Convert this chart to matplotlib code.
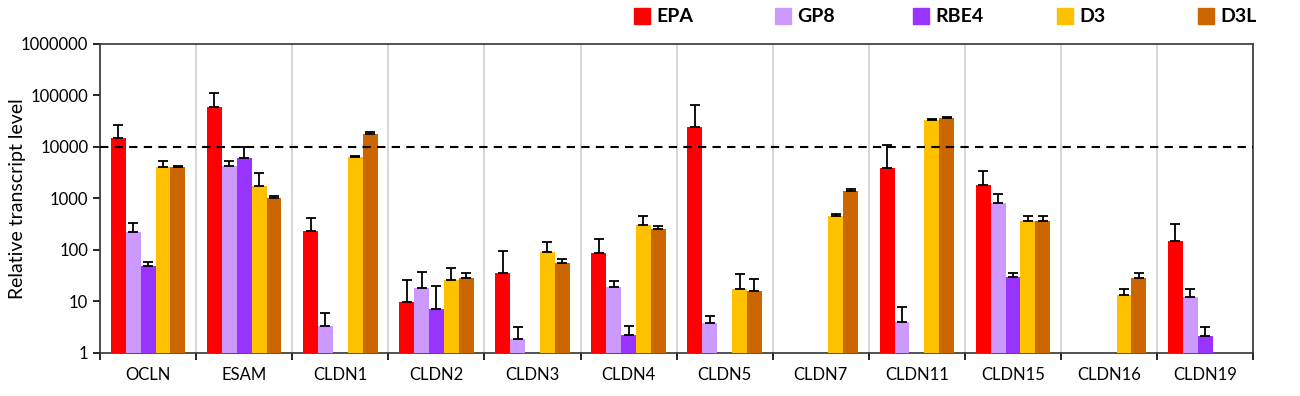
import numpy as np
import matplotlib
matplotlib.use('Agg')
import matplotlib.pyplot as plt
from matplotlib.patches import Rectangle

plt.rcParams['font.family'] = ['Lato', 'DejaVu Sans']

genes = ['OCLN', 'ESAM', 'CLDN1', 'CLDN2', 'CLDN3', 'CLDN4', 'CLDN5',
         'CLDN7', 'CLDN11', 'CLDN15', 'CLDN16', 'CLDN19']
series = ['EPA', 'GP8', 'RBE4', 'D3', 'D3L']
colors = ['#ff0000', '#cc99ff', '#9933ff', '#ffc000', '#cc6600']

nan = np.nan
# mean values (nan = not detected)
epa  = [15000, 60000, 235, 9.8, 36, 88, 24500, nan, 3900, 1820, nan, 150]
gp8  = [220, 4300, 3.3, 18, 1.87, 19, 3.8, nan, 4.0, 820, nan, 12]
rbe4 = [49, 6100, nan, 7.1, nan, 2.2, nan, nan, nan, 30, nan, 2.15]
d3   = [4100, 1750, 6500, 26, 92, 310, 17.5, 460, 33500, 370, 13.4, nan]
d3l  = [4000, 1030, 18000, 29, 56, 255, 16, 1400, 36000, 370, 29, nan]

# upper error bar (SD)
epa_sd  = [12000, 52000, 185, 16, 60, 75, 41500, nan, 7100, 1580, nan, 170]
gp8_sd  = [110, 1000, 2.7, 19, 1.33, 6, 1.4, nan, 3.8, 410, nan, 5]
rbe4_sd = [9, 3900, nan, 12.9, nan, 1.1, nan, nan, nan, 5, nan, 1.05]
d3_sd   = [1200, 1350, 200, 19, 48, 150, 16.5, 40, 1500, 90, 3.6, nan]
d3l_sd  = [300, 70, 1500, 7, 10, 35, 11, 120, 2000, 90, 6, nan]

values = [epa, gp8, rbe4, d3, d3l]
errs = [epa_sd, gp8_sd, rbe4_sd, d3_sd, d3l_sd]

W, H = 1300, 396
fig = plt.figure(figsize=(W / 100, H / 100), dpi=100)
ax = fig.add_axes([0.077, 0.109, 0.887, 0.78])

x = np.arange(len(genes)) + 0.5
w = 0.155
for k in range(len(series)):
    v = np.array(values[k], dtype=float)
    e = np.array(errs[k], dtype=float)
    pos = x + (k - 2) * w
    ax.bar(pos, v, width=w, color=colors[k], zorder=3)
    ax.errorbar(pos, v, yerr=[np.zeros_like(e), e], fmt='none', ecolor='black',
                elinewidth=1.3, capsize=3.5, capthick=1.3, zorder=4)

ax.set_yscale('log')
ax.set_ylim(1, 1e6)
ax.set_xlim(0, len(genes))
ax.set_yticks([1, 10, 100, 1000, 10000, 100000, 1000000])
ax.set_yticklabels(['1', '10', '100', '1000', '10000', '100000', '1000000'], fontsize=12)
ax.minorticks_off()
ax.set_xticks(np.arange(len(genes) + 1))
ax.set_xticklabels([])
ax.set_xticks(x, minor=True)
ax.set_xticklabels(genes, minor=True, fontsize=12)
ax.tick_params(axis='x', which='minor', length=0, pad=10)
ax.tick_params(axis='x', which='major', length=5, width=1.2, direction='out')
ax.tick_params(axis='y', length=5, width=1.2, direction='out')
ax.grid(axis='x', which='major', color='#d0d0d0', linewidth=1.2, zorder=0)
for s in ax.spines.values():
    s.set_color('#333333')
    s.set_linewidth(1.2)
ax.axhline(10000, color='black', linestyle=(0, (4, 3)), linewidth=1.5, zorder=5)
ax.set_ylabel('Relative transcript level', fontsize=14)
ax.yaxis.set_label_coords(-0.064, 0.5)

# legend row along the top, evenly spaced like the original
leg_x = [634, 775, 913, 1057, 1198]
for lx, name, c in zip(leg_x, series, colors):
    fig.add_artist(Rectangle((lx / W, 1 - 24 / H), 16 / W, 16 / H,
                             transform=fig.transFigure, color=c))
    fig.text((lx + 22) / W, 1 - 16 / H, name, fontsize=14, fontweight='bold',
             va='center', ha='left')

fig.savefig('out.png', dpi=100)
